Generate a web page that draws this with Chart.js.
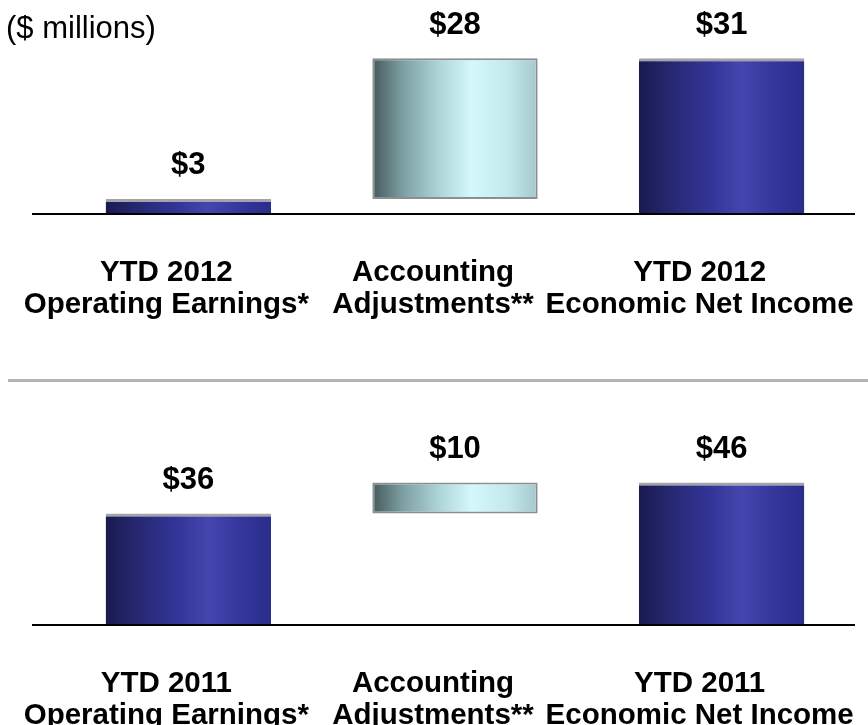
<!DOCTYPE html>
<html>
<head>
<meta charset="utf-8">
<script src="https://cdn.jsdelivr.net/npm/chart.js@4.4.0/dist/chart.umd.min.js"></script>
<style>
  html, body { margin: 0; padding: 0; background: #fff; }
  #page { position: relative; width: 868px; height: 725px; overflow: hidden;
          font-family: "Liberation Sans", Arial, sans-serif; }
  #units { position: absolute; left: 6px; top: 10px; font-size: 31px; color: #000; }
  #divider { position: absolute; left: 8px; right: 0; top: 379px; height: 3px; background: #b3b3b3; }
  canvas { position: absolute; left: 0; }
  #chart2012 { top: 0; }
  #chart2011 { top: 390px; }
</style>
</head>
<body>
<div id="page">
  <div id="divider"></div>
  <canvas id="chart2012" width="900" height="323"></canvas>
  <canvas id="chart2011" width="900" height="344"></canvas>
  <div id="units">($ millions)</div>
</div>
<script>
// categories (two-line tick labels)
var labels2012 = [['YTD 2012', 'Operating Earnings*'], ['Accounting', 'Adjustments**'], ['YTD 2012', 'Economic Net Income']];
var labels2011 = [['YTD 2011', 'Operating Earnings*'], ['Accounting', 'Adjustments**'], ['YTD 2011', 'Economic Net Income']];

// $ millions: operating earnings, accounting adjustments, economic net income
var values2012 = [3, 28, 31];
var values2011 = [36, 10, 46];

// 'total' bars stand on zero, 'step' bars float on top of the previous one
var barKinds = ['total', 'step', 'total'];

var BAR_PCT = 0.62;
var navyStops = [[0, '#191a4e'], [0.2, '#272873'], [0.45, '#34369a'], [0.62, '#4446ad'], [0.85, '#32349a'], [1, '#2b2d8a']];
var tealStops = [[0, '#45595b'], [0.18, '#7c9ea1'], [0.4, '#acd4d7'], [0.6, '#d4f8fb'], [0.82, '#c3e9ec'], [1, '#a4c8cb']];

function floatingData(values) {
  return values.map(function (v, i) {
    if (barKinds[i] === 'step') return [values[i - 1], values[i - 1] + v];
    return [0, v];
  });
}

function barFill(ctx) {
  var chart = ctx.chart, xs = chart.scales.x;
  if (!xs || !chart.chartArea) return '#33358f';
  var n = chart.data.labels.length;
  var cx = xs.getPixelForValue(ctx.dataIndex);
  var half = xs.width / n * BAR_PCT / 2;
  var stops = barKinds[ctx.dataIndex] === 'step' ? tealStops : navyStops;
  var g = chart.ctx.createLinearGradient(cx - half, 0, cx + half, 0);
  stops.forEach(function (s) { g.addColorStop(s[0], s[1]); });
  return g;
}

// "$nn" above each bar
var valueLabels = {
  id: 'valueLabels',
  afterDatasetsDraw: function (chart, args, opts) {
    var meta = chart.getDatasetMeta(0);
    var c = chart.ctx;
    c.save();
    c.font = 'bold 31px "Liberation Sans", Arial, sans-serif';
    c.fillStyle = '#000';
    c.textAlign = 'center';
    c.textBaseline = 'middle';
    meta.data.forEach(function (bar, i) {
      c.fillText('$' + opts.values[i], bar.x, bar.y - opts.gap);
    });
    c.restore();
  }
};

// black baseline at zero, running a little past the left edge of the plot
var baseline = {
  id: 'baseline',
  afterDatasetsDraw: function (chart, args, opts) {
    var y = chart.scales.y.getPixelForValue(0);
    var c = chart.ctx;
    c.save();
    c.strokeStyle = '#000';
    c.lineWidth = 2;
    c.beginPath();
    c.moveTo(chart.chartArea.left - opts.extendLeft, y);
    c.lineTo(chart.chartArea.right, y);
    c.stroke();
    c.restore();
  }
};

function makeChart(id, labels, values, yMax, padTop) {
  return new Chart(document.getElementById(id), {
    type: 'bar',
    data: {
      labels: labels,
      datasets: [{
        data: floatingData(values),
        backgroundColor: barFill,
        borderColor: function (ctx) { return barKinds[ctx.dataIndex] === 'step' ? '#8b8f8f' : '#a3a3a8'; },
        borderWidth: function (ctx) {
          return barKinds[ctx.dataIndex] === 'step' ? 2 : { top: 3, bottom: 0, left: 0, right: 0 };
        },
        borderSkipped: false,
        categoryPercentage: 1,
        barPercentage: BAR_PCT
      }]
    },
    options: {
      responsive: false,
      animation: false,
      layout: { padding: { top: padTop, left: 55, right: 45, bottom: 0 } },
      plugins: {
        legend: { display: false },
        tooltip: { enabled: false },
        valueLabels: { values: values, gap: 33 },
        baseline: { extendLeft: 23 }
      },
      scales: {
        x: {
          // invisible tick marks just push the labels down from the baseline
          grid: { color: 'transparent', drawOnChartArea: false, drawTicks: true, tickLength: 41 },
          border: { display: false },
          ticks: {
            autoSkip: false, maxRotation: 0, minRotation: 0,
            padding: 2, labelOffset: -22,
            color: '#000',
            font: { family: '"Liberation Sans", Arial, sans-serif', size: 29.5, weight: 'bold', lineHeight: 1.085 }
          }
        },
        y: { display: false, min: 0, max: yMax }
      }
    },
    plugins: [valueLabels, baseline]
  });
}

makeChart('chart2012', labels2012, values2012, 40, 13);
makeChart('chart2011', labels2011, values2011, 70, 18);
</script>
</body>
</html>
